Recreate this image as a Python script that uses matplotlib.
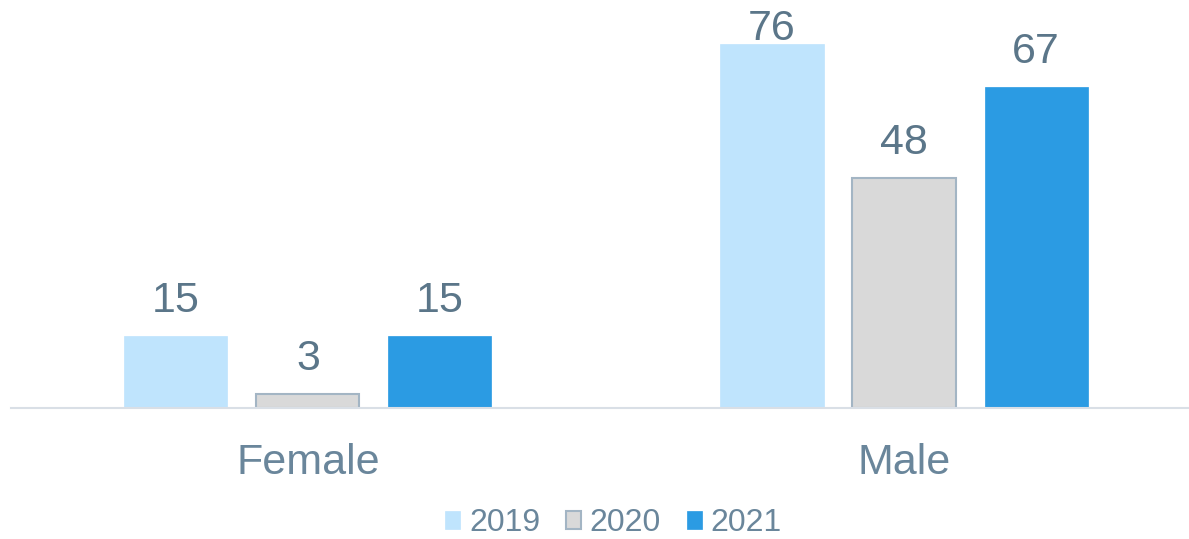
import matplotlib.pyplot as plt
import numpy as np

# data
categories = ["Female", "Male"]
years = ["2019", "2020", "2021"]
v2019 = [15, 76]
v2020 = [3, 48]
v2021 = [15, 67]
series = [v2019, v2020, v2021]

colors = ["#bfe4fd", "#d9d9d9", "#2b9be3"]
edges = ["#bfe4fd", "#a3b5c4", "#2b9be3"]
txt = "#5b7689"

plt.rcParams['font.family'] = ['Liberation Sans', 'DejaVu Sans']

fig = plt.figure(figsize=(11.89, 5.39), dpi=100)
ax = fig.add_axes([0.00925, 0.243, 0.99075, 0.757])

x = np.arange(len(categories))
step = 0.2215
width = 0.173
for i, (vals, yr) in enumerate(zip(series, years)):
    pos = x + (i - 1) * step
    ax.bar(pos, vals, width, color=colors[i], edgecolor=edges[i],
           linewidth=1.5 if i == 1 else 0.5, label=yr, zorder=2)
    for p, v in zip(pos, vals):
        ytxt = min(v + 5.0, 76.8)
        ax.text(p, ytxt, str(v), ha='center', va='baseline',
                fontsize=31, color=txt)

ax.set_xlim(-0.498, 1.478)
ax.set_ylim(0, 85.2)
for s in ['top', 'right', 'left']:
    ax.spines[s].set_visible(False)
ax.spines['bottom'].set_color('#d9dfe6')
ax.spines['bottom'].set_linewidth(1.5)
ax.set_yticks([])
ax.set_xticks(x)
ax.set_xticklabels(categories, fontsize=31, color="#6a869b")
ax.tick_params(axis='x', length=0, pad=25)

fig.legend(loc='center', bbox_to_anchor=(0.516, 0.029), ncol=3,
           frameon=False, fontsize=23, handlelength=0.47, handleheight=0.47,
           handletextpad=0.28, columnspacing=0.8, labelcolor="#6a869b",
           borderpad=0.1)

fig.savefig("out.png", dpi=100)
